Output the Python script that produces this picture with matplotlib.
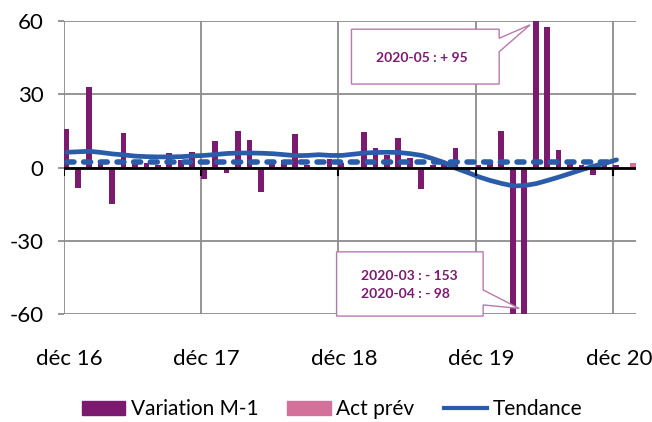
import numpy as np
import matplotlib
matplotlib.use('Agg')
import matplotlib.pyplot as plt
from matplotlib.patches import Polygon, Rectangle
from matplotlib.lines import Line2D

plt.rcParams['font.family'] = ['Lato', 'DejaVu Sans']

# monthly data, index 0 = déc 16 ... 49 = janv 21
variation = [16, -8.5, 33, 3, -15, 14, 3, 2, 1, 6,
             3, 6.5, -4.5, 10.8, -2.2, 15, 11.5, -10, 2, 3,
             13.7, 1, -1.1, 3.5, 2, -1.1, 14.5, 8, 5, 12,
             4, -8.7, 1, 2, 8, -1.5, 1, 2, 15, -153,
             -98, 95, 57.4, 7.4, 2, 1, -2.9, 1, 1, np.nan]
act_prev_month = [49]
act_prev = [2]
tendance = [6.3, 6.5, 6.7, 6.2, 5.6, 5.2, 4.7, 4.5, 4.4, 4.4,
            4.5, 4.8, 5.0, 5.4, 5.8, 6.0, 6.0, 5.9, 5.7, 5.3,
            4.9, 5.0, 5.3, 5.0, 5.0, 5.5, 6.0, 6.2, 6.3, 6.2,
            5.7, 5.0, 3.6, 2.0, -0.3, -2.0, -3.8, -5.3, -6.5, -7.5,
            -7.3, -6.5, -5.2, -3.8, -2.3, -0.8, 0.6, 1.8, 3.2]
tendance_lt = 2.2  # dotted long-term level
year_ticks = [0, 12, 24, 36, 48]
year_labels = ['déc 16', 'déc 17', 'déc 18', 'déc 19', 'déc 20']
yticks = [-60, -30, 0, 30, 60]

purple = '#7b1a6e'
pink = '#d4719a'
blue = '#2a5caa'
grid = '#8c8c8c'

fig = plt.figure(figsize=(6.52, 4.22), dpi=100)
ax = fig.add_axes([63.5/652, 1-314.3/422, 572.5/652, 293.3/422])

months = np.arange(len(variation))
ax.bar(months + 0.24, variation, width=0.5, color=purple, zorder=2)
ax.bar(np.array(act_prev_month) + 0.76, act_prev, width=0.5, color=pink, zorder=2)

tx = np.arange(len(tendance)) + 0.3
ax.plot(tx, tendance, color=blue, lw=3.4, solid_capstyle='round', zorder=4)
ax.plot([tx[0], tx[-1]], [tendance_lt, tendance_lt], color=blue, lw=4.0,
        dashes=(1.25, 1.75), dash_capstyle='round', zorder=5)

ax.set_xlim(0, 50)
ax.set_ylim(-60, 60)
for s in ax.spines.values():
    s.set_visible(False)

ax.set_yticks(yticks)
ax.set_yticklabels([str(v) for v in yticks])
ax.tick_params(axis='y', length=4.3, width=1.3, color=grid, pad=10, labelsize=16)
ax.set_xticks(year_ticks)
ax.set_xticklabels([])
ax.tick_params(axis='x', which='major', length=0)
ax.set_xticks([t + 0.5 for t in year_ticks], minor=True)
ax.set_xticklabels(year_labels, minor=True)
ax.tick_params(axis='x', which='minor', length=0, pad=25, labelsize=16)
ax.grid(True, color=grid, lw=1.3, zorder=0)
ax.set_axisbelow(True)

# zero axis and year tick marks
ax.axhline(0, color='black', lw=2, zorder=6)
ax.vlines(year_ticks, -3.3, 0, color='black', lw=1.5, zorder=6)

# callouts
box_col = '#b979ad'
c1 = [(0.503, 0.972), (0.761, 0.972), (0.761, 0.941), (0.815, 0.987),
      (0.761, 0.895), (0.761, 0.785), (0.503, 0.785)]
c2 = [(0.477, 0.213), (0.733, 0.213), (0.733, 0.083), (0.796, 0.020),
      (0.733, 0.032), (0.733, -0.006), (0.477, -0.006)]
for pts in (c1, c2):
    ax.add_patch(Polygon(pts, closed=True, transform=ax.transAxes, facecolor='white',
                         edgecolor=box_col, lw=1, zorder=7, clip_on=False))
ax.text(0.626, 0.874, '2020-05 : + 95', transform=ax.transAxes, ha='center', va='center',
        color=purple, fontsize=10, fontweight='bold', zorder=8)
ax.text(0.519, 0.132, '2020-03 : - 153', transform=ax.transAxes, ha='left', va='center',
        color=purple, fontsize=10, fontweight='bold', zorder=8)
ax.text(0.519, 0.068, '2020-04 : - 98', transform=ax.transAxes, ha='left', va='center',
        color=purple, fontsize=10, fontweight='bold', zorder=8)

handles = [Rectangle((0, 0), 1, 1, color=purple),
           Rectangle((0, 0), 1, 1, color=pink),
           Line2D([], [], color=blue, lw=3)]
fig.legend(handles, ['Variation M-1', 'Act prév', 'Tendance'], loc='center',
           bbox_to_anchor=(332/652, 0.03), ncol=3, frameon=False, fontsize=15,
           handlelength=2.1, handleheight=0.7, handletextpad=0.25, columnspacing=1.4)

fig.savefig('out.png', dpi=100)
